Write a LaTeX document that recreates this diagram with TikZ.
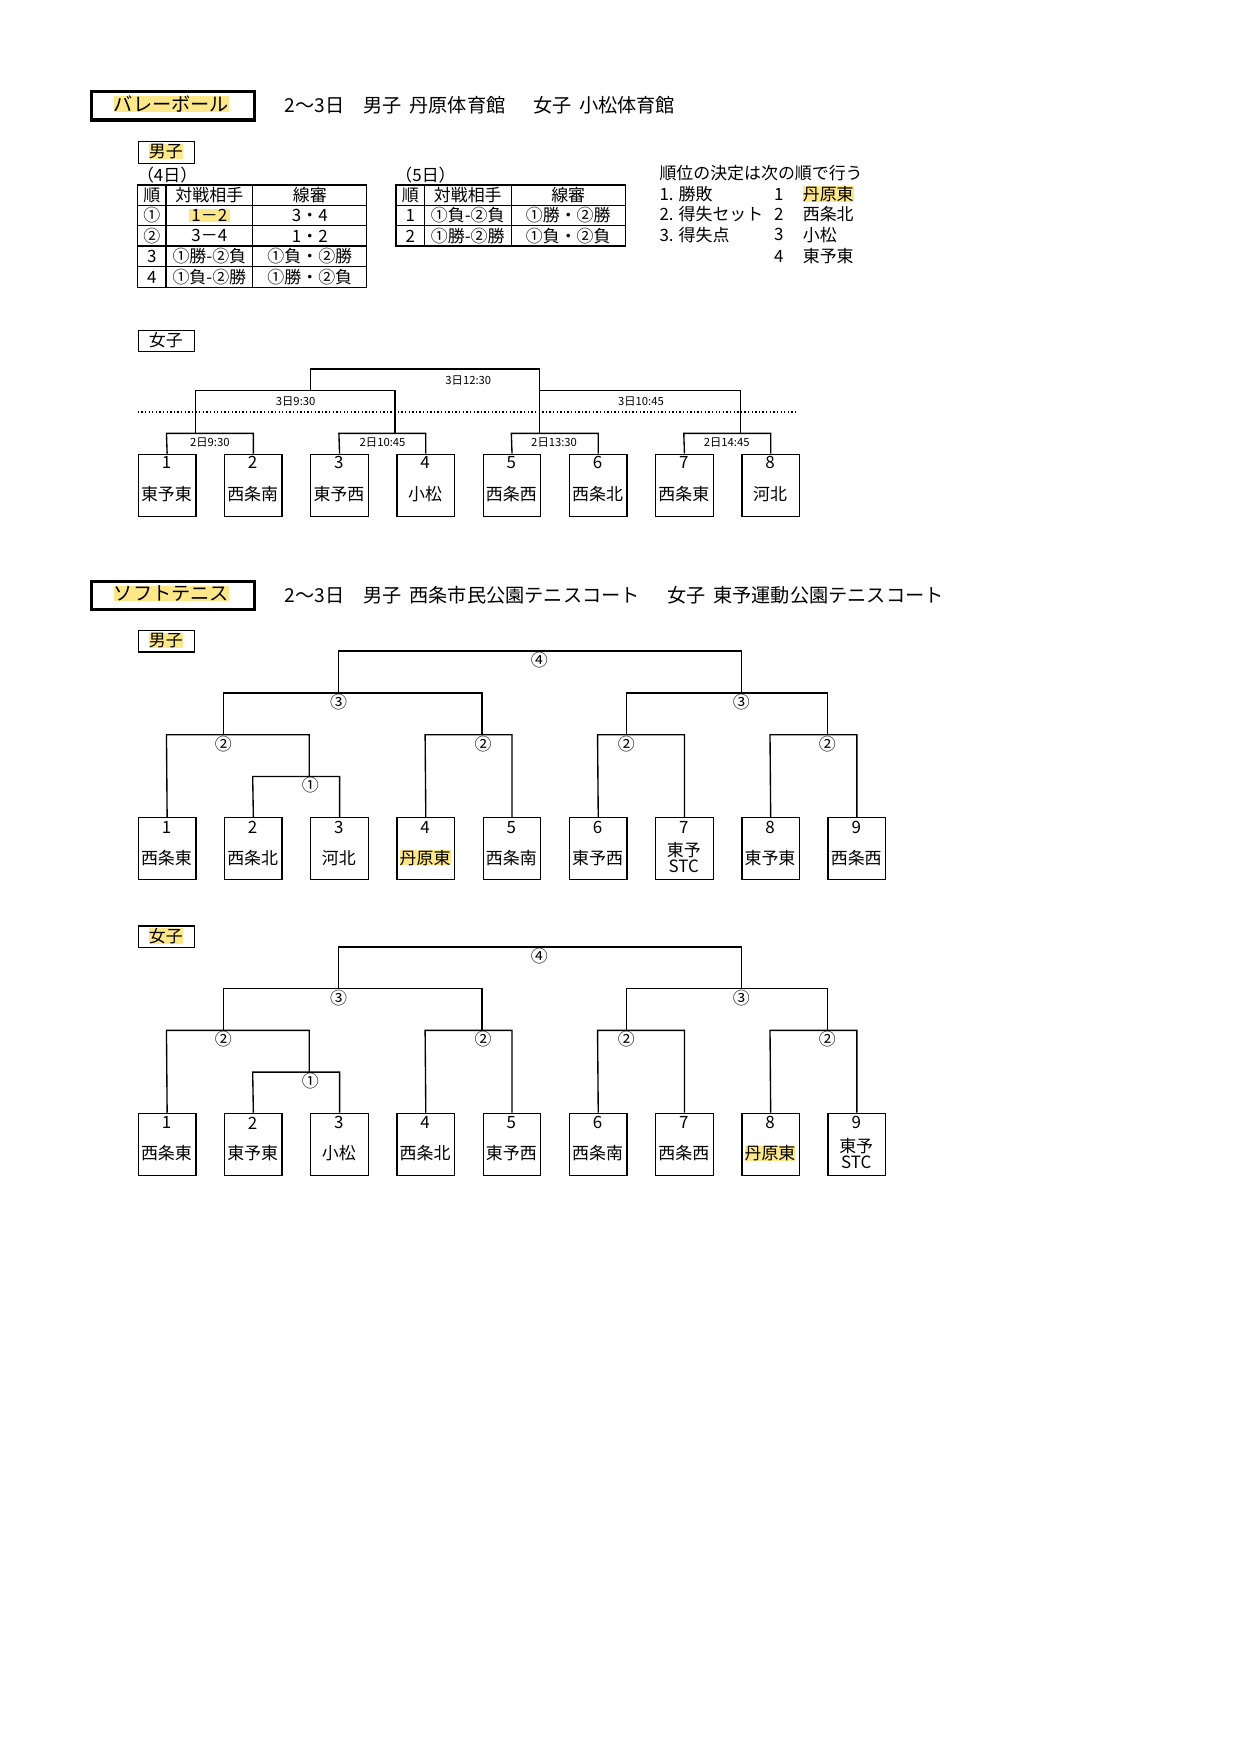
\documentclass[tikz,border=0pt]{standalone}
\usepackage{fontspec}
\setmainfont{Noto Sans CJK JP}
\begin{document}
\begin{tikzpicture}[x=0.5pt,y=-0.5pt,
  ln/.style={line width=0.6pt},
  t/.style={inner sep=0pt,font=\fontsize{7.5}{8}\selectfont},
  big/.style={inner sep=0pt,font=\fontsize{8.5}{9}\selectfont,anchor=west},
  sm/.style={inner sep=0.5pt,font=\fontsize{5}{5}\selectfont},
  hl/.style={fill=yellow!65!orange!45!white},
  team/.style={draw,line width=0.6pt,minimum width=25.5pt,minimum height=27.5pt,inner sep=0pt,anchor=north west},
  lab/.style={draw,line width=0.6pt,minimum width=25pt,minimum height=9.5pt,inner sep=0pt,anchor=north west},
  title/.style={draw,line width=1.4pt,minimum width=72pt,minimum height=12.5pt,inner sep=0pt,anchor=north west}]
\useasboundingbox (0,0) rectangle (1100,1556);
% ===== Volleyball header
\node[title] (vt) at (80,80) {};
\node[t,hl,font=\fontsize{8.5}{9}\selectfont] (vtt) at (152,92) {バレーボール};
\node[big] (vh) at (252,93) {2～3日\quad 男子\, 丹原体育館\quad\ \ 女子\, 小松体育館};
\node[lab] (vm) at (122,125) {};
\node[t,hl] (vmt) at (147,134.5) {男子};
\node[t,anchor=west] (d4) at (121,155) {（4日）};
\node[t,anchor=west] (d5) at (350,155) {（5日）};
% table 1
\draw[ln] (122,164) rectangle (325,255);
\foreach \y in {182,200,218,236} \draw[ln] (122,\y)--(325,\y);
\draw[ln] (147,164)--(147,255) (224,164)--(224,255);
\node[t] (a00) at (134.5,173) {順};
\node[t] (a01) at (185.5,173) {対戦相手};
\node[t] (a02) at (274.5,173) {線審};
\node[t] (a10) at (134.5,191) {①};
\node[t,hl] (a11) at (185.5,191) {\,1－2\,};
\node[t] (a12) at (274.5,191) {3・4};
\node[t] (a20) at (134.5,209) {②};
\node[t] (a21) at (185.5,209) {3－4};
\node[t] (a22) at (274.5,209) {1・2};
\node[t] (a30) at (134.5,227) {3};
\node[t] (a31) at (185.5,227) {①勝-②負};
\node[t] (a32) at (274.5,227) {①負・②勝};
\node[t] (a40) at (134.5,245.5) {4};
\node[t] (a41) at (185.5,245.5) {①負-②勝};
\node[t] (a42) at (274.5,245.5) {①勝・②負};
% table 2
\draw[ln] (351,164) rectangle (554,218);
\foreach \y in {182,200} \draw[ln] (351,\y)--(554,\y);
\draw[ln] (376,164)--(376,218) (453,164)--(453,218);
\node[t] (b00) at (363.5,173) {順};
\node[t] (b01) at (414.5,173) {対戦相手};
\node[t] (b02) at (503.5,173) {線審};
\node[t] (b10) at (363.5,191) {1};
\node[t] (b11) at (414.5,191) {①負-②負};
\node[t] (b12) at (503.5,191) {①勝・②勝};
\node[t] (b20) at (363.5,209) {2};
\node[t] (b21) at (414.5,209) {①勝-②勝};
\node[t] (b22) at (503.5,209) {①負・②負};
% ranking
\node[t,anchor=west] (r0) at (584,153) {順位の決定は次の順で行う};
\node[t,anchor=west] (r1) at (584,172) {1. 勝敗};
\node[t,anchor=west] (r2) at (584,190) {2. 得失セット};
\node[t,anchor=west] (r3) at (584,208) {3. 得失点};
\foreach \i/\y in {1/172,2/190,3/208,4/227} \node[t] (rn\i) at (690,\y) {\i};
\node[t,anchor=west,hl] (rt1) at (711,172) {丹原東};
\node[t,anchor=west] (rt2) at (711,190) {西条北};
\node[t,anchor=west] (rt3) at (711,208) {小松};
\node[t,anchor=west] (rt4) at (711,227) {東予東};
% ===== Volleyball women bracket
\node[lab] (vw) at (122,292) {};
\node[t] (vwt) at (147,301.5) {女子};
\foreach \n/\nm [count=\i from 0] in {1/東予東,2/西条南,3/東予西,4/小松,5/西条西,6/西条北,7/西条東,8/河北}{
  \node[team] (vb\n) at ({122+76.4*\i},402) {};
  \node[t] (vbn\n) at ({147.5+76.4*\i},410) {\n};
  \node[t] (vbt\n) at ({147.5+76.4*\i},438) {\nm};
}
\draw[ln] (vb1.north) -- (147.5,384) -| (vb2.north);
\draw[ln] (vb3.north) -- (300.3,384) -| (vb4.north);
\draw[ln] (vb5.north) -- (453.1,384) -| (vb6.north);
\draw[ln] (vb7.north) -- (605.9,384) -| (vb8.north);
\coordinate (q1) at (173,384); \coordinate (q2) at (350,384);
\coordinate (q3) at (478,384); \coordinate (q4) at (656,384);
\draw[ln] (q1) -- (173,346) -| (q2);
\draw[ln] (q3) -- (478,346) -| (q4);
\coordinate (s1) at (275,346); \coordinate (s2) at (478,346);
\draw[ln] (s1) -- (275,327) -| (s2);
\draw[line width=0.6pt,densely dotted] (122,365) -- (707,365);
\node[sm] (v1a) at (186,392) {2日9:30};
\node[sm] (v1b) at (339,392) {2日10:45};
\node[sm] (v1c) at (491,392) {2日13:30};
\node[sm] (v1d) at (644,392) {2日14:45};
\node[sm] (v2a) at (262,356) {3日9:30};
\node[sm] (v2b) at (568,356) {3日10:45};
\node[sm] (v3) at (415,337) {3日12:30};
% ===== Soft tennis header
\node[title] (st) at (80,514) {};
\node[t,hl,font=\fontsize{8.5}{9}\selectfont] (stt) at (152,526) {ソフトテニス};
\node[big] (sh) at (252,527) {2～3日\quad 男子\, 西条市民公園テニスコート\quad\ \ 女子\, 東予運動公園テニスコート};
% brackets
\foreach \oy/\g/\lbl/\names in {0/m/男子/{西条東,西条北,河北,丹原東,西条南,東予西,東予STC,東予東,西条西},
                                 262/w/女子/{西条東,東予東,小松,西条北,東予西,西条南,西条西,丹原東,東予STC}}{
  \node[lab] (\g lab) at (122,558+\oy) {};
  \node[t,hl] (\g labt) at (147,567.5+\oy) {\lbl};
  \foreach \nm [count=\i from 1] in \names {
    \node[team] (\g b\i) at ({122+76.4*(\i-1)},724+\oy) {};
    \node[t] (\g n\i) at ({147.5+76.4*(\i-1)},733+\oy) {\i};
  }
  \draw[ln] (\g b2.north) -- (223.9,688+\oy) -| (\g b3.north);
  \coordinate (\g c1) at (274,688+\oy);
  \draw[ln] (\g b1.north) -- (147.5,651+\oy) -| (\g c1);
  \draw[ln] (\g b4.north) -- (376.7,651+\oy) -| (\g b5.north);
  \draw[ln] (\g b6.north) -- (529.5,651+\oy) -| (\g b7.north);
  \draw[ln] (\g b8.north) -- (682.3,651+\oy) -| (\g b9.north);
  \coordinate (\g d1) at (198,651+\oy); \coordinate (\g d2) at (427,651+\oy);
  \coordinate (\g d3) at (555,651+\oy); \coordinate (\g d4) at (733,651+\oy);
  \draw[ln] (\g d1) -- (198,614+\oy) -| (\g d2);
  \draw[ln] (\g d3) -- (555,614+\oy) -| (\g d4);
  \coordinate (\g e1) at (300,614+\oy); \coordinate (\g e2) at (657,614+\oy);
  \draw[ln] (\g e1) -- (300,577+\oy) -| (\g e2);
  \node[t] (\g r1) at (275,696+\oy) {①};
  \node[t] (\g r2a) at (198,659+\oy) {②};
  \node[t] (\g r2b) at (428,659+\oy) {②};
  \node[t] (\g r2c) at (555,659+\oy) {②};
  \node[t] (\g r2d) at (733,659+\oy) {②};
  \node[t] (\g r3a) at (300,622+\oy) {③};
  \node[t] (\g r3b) at (657,622+\oy) {③};
  \node[t] (\g r4) at (478,585+\oy) {④};
}
% team names men
\node[t] (mt1) at (147.5,760) {西条東};
\node[t] (mt2) at (223.9,760) {西条北};
\node[t] (mt3) at (300.3,760) {河北};
\node[t,hl] (mt4) at (376.7,760) {丹原東};
\node[t] (mt5) at (453.1,760) {西条南};
\node[t] (mt6) at (529.5,760) {東予西};
\node[t,align=center] (mt7) at (605.9,760) {東予\\[-1pt]STC};
\node[t] (mt8) at (682.3,760) {東予東};
\node[t] (mt9) at (758.7,760) {西条西};
% team names women
\node[t] (wt1) at (147.5,1022) {西条東};
\node[t] (wt2) at (223.9,1022) {東予東};
\node[t] (wt3) at (300.3,1022) {小松};
\node[t] (wt4) at (376.7,1022) {西条北};
\node[t] (wt5) at (453.1,1022) {東予西};
\node[t] (wt6) at (529.5,1022) {西条南};
\node[t] (wt7) at (605.9,1022) {西条西};
\node[t,hl] (wt8) at (682.3,1022) {丹原東};
\node[t,align=center] (wt9) at (758.7,1022) {東予\\[-1pt]STC};
\end{tikzpicture}
\end{document}
